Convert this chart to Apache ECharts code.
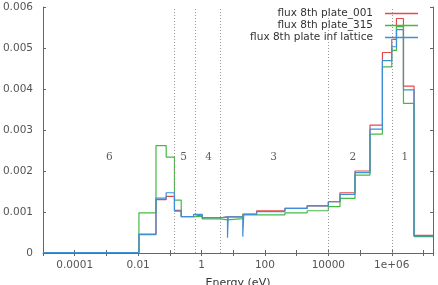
<!DOCTYPE html>
<html>
<head>
<meta charset="utf-8">
<title>flux 8th plate</title>
<script src="https://cdn.jsdelivr.net/npm/echarts@6/dist/echarts.min.js"></script>
<style>
  html, body { margin: 0; padding: 0; background: #fff; }
  #chart { width: 438px; height: 285px; }
</style>
</head>
<body>
<div id="chart"></div>
<script>
// group edges in eV (lower edge of each group, last one closes the last group)
const energyEdges = [1e-5, 0.0106, 0.0366, 0.0768, 0.14, 0.229, 0.559, 1.05, 4, 6.6, 6.95,
  20, 21.5, 54.5, 427, 2144, 1e4, 23300, 69300, 206000, 508000, 1e6, 1.41e6, 2.34e6, 5.05e6, 2e7];

const flux001 = [0.00001, 0.00046, 0.00130, 0.00138, 0.00104, 0.00089, 0.00093, 0.00086, 0.00088, 0.00088,
  0.00088, 0.00095, 0.00095, 0.00103, 0.00109, 0.00115, 0.00125, 0.00147, 0.00200, 0.00312,
  0.00489, 0.00521, 0.00572, 0.00407, 0.00043];
const flux315 = [0.00001, 0.00098, 0.00262, 0.00234, 0.00129, 0.00088, 0.00090, 0.00083, 0.00081, 0.00081,
  0.00084, 0.00093, 0.00093, 0.00093, 0.00098, 0.00103, 0.00113, 0.00133, 0.00190, 0.00290,
  0.00454, 0.00494, 0.00552, 0.00365, 0.00040];
const fluxInf = [0.00001, 0.00045, 0.00134, 0.00147, 0.00102, 0.00089, 0.00094, 0.00086, 0.00088, 0.00037,
  0.00088, 0.00040, 0.00094, 0.00101, 0.00109, 0.00115, 0.00125, 0.00143, 0.00196, 0.00302,
  0.00469, 0.00503, 0.00545, 0.00398, 0.00042];

const seriesNames = ["flux 8th plate_001", "flux 8th plate_315", "flux 8th plate inf lattice"];
const seriesColors = ["#e34a4a", "#44b944", "#3d8fd8"];

const xTickValues = [1e-4, 1e-2, 1, 100, 1e4, 1e6];
const xTickLabels = ["0.0001", "0.01", "1", "100", "10000", "1e+06"];

// six energy groups: boundaries and their numbers
const groupCuts = [0.14, 0.625, 4, 1e4, 1e6];
const groupNames = ["6", "5", "4", "3", "2", "1"];
const groupNameAt = [0.00124, 0.27, 1.66, 187, 59000, 2.6e6];
const groupNameLevel = 0.00234;

function toSteps(values) {
  const pts = values.map((v, i) => [energyEdges[i], v]);
  pts.push([energyEdges[energyEdges.length - 1], values[values.length - 1]]);
  return pts;
}

function xLabel(v) {
  for (let i = 0; i < xTickValues.length; i++) {
    if (Math.abs(Math.log10(v) - Math.log10(xTickValues[i])) < 1e-6) return xTickLabels[i];
  }
  return "";
}

const chart = echarts.init(document.getElementById("chart"), null, { renderer: "canvas" });

const font = "DejaVu Sans";
const axisColor = "#666";

const lineSeries = [flux001, flux315, fluxInf].map((vals, i) => ({
  name: seriesNames[i],
  type: "line",
  step: "end",
  symbol: "none",
  data: toSteps(vals),
  lineStyle: { width: 1.2, color: seriesColors[i] },
  itemStyle: { color: seriesColors[i] },
  z: 3 + i,
}));

lineSeries[0].markLine = {
  silent: true,
  symbol: "none",
  label: { show: false },
  lineStyle: { type: [1, 2], color: "#999", width: 1 },
  data: groupCuts.map((c) => ({ xAxis: c })),
};

const option = {
  animation: false,
  backgroundColor: "#fff",
  grid: { left: 43, right: 5, top: 7, bottom: 32, outerBoundsMode: "none" },
  legend: seriesNames.map((name, i) => ({
    data: [name],
    right: 20,
    top: 8 + 12 * i,
    align: "right",
    padding: 0,
    icon: "rect",
    itemWidth: 33,
    itemHeight: 1.3,
    selectedMode: false,
    textStyle: { fontFamily: font, fontSize: 10.5, color: "#333", padding: [0, 7, 0, 0] },
  })),
  xAxis: [
    {
      type: "log",
      logBase: 10,
      min: 1e-5,
      max: 2e7,
      interval: 1,
      name: "Energy (eV)",
      nameLocation: "middle",
      nameGap: 25,
      nameTextStyle: { fontFamily: font, fontSize: 11, color: "#333" },
      axisLine: { show: true, lineStyle: { color: axisColor } },
      axisTick: { show: true, inside: true, length: 3, lineStyle: { color: axisColor } },
      axisLabel: { formatter: xLabel, margin: 7, fontFamily: font, fontSize: 10.5, color: "#555", showMinLabel: true, showMaxLabel: true },
      splitLine: { show: false },
      minorTick: { show: false },
    },
    {
      type: "log",
      logBase: 10,
      position: "top",
      min: 1e-5,
      max: 2e7,
      interval: 1,
      axisLine: { show: false },
      axisTick: { show: true, inside: true, length: 3, lineStyle: { color: axisColor } },
      axisLabel: { show: false },
      splitLine: { show: false },
    },
  ],
  yAxis: [
    {
      type: "value",
      min: 0,
      max: 0.006,
      interval: 0.001,
      axisLine: { show: true, lineStyle: { color: axisColor } },
      axisTick: { show: true, inside: true, length: 3, lineStyle: { color: axisColor } },
      axisLabel: { margin: 10, fontFamily: font, fontSize: 10.5, color: "#555" },
      splitLine: { show: false },
    },
    {
      type: "value",
      position: "right",
      min: 0,
      max: 0.006,
      interval: 0.001,
      axisLine: { show: true, lineStyle: { color: axisColor } },
      axisTick: { show: true, inside: true, length: 3, lineStyle: { color: axisColor } },
      axisLabel: { show: false },
      splitLine: { show: false },
    },
  ],
  series: lineSeries.concat([
    {
      name: "groups",
      type: "scatter",
      silent: true,
      symbolSize: 0,
      data: groupNames.map((g, i) => ({ name: g, value: [groupNameAt[i], groupNameLevel] })),
      label: {
        show: true,
        position: "inside",
        formatter: (p) => p.name,
        fontFamily: "DejaVu Serif",
        fontSize: 10.5,
        color: "#333",
      },
    },
  ]),
};

chart.setOption(option);
</script>
</body>
</html>
